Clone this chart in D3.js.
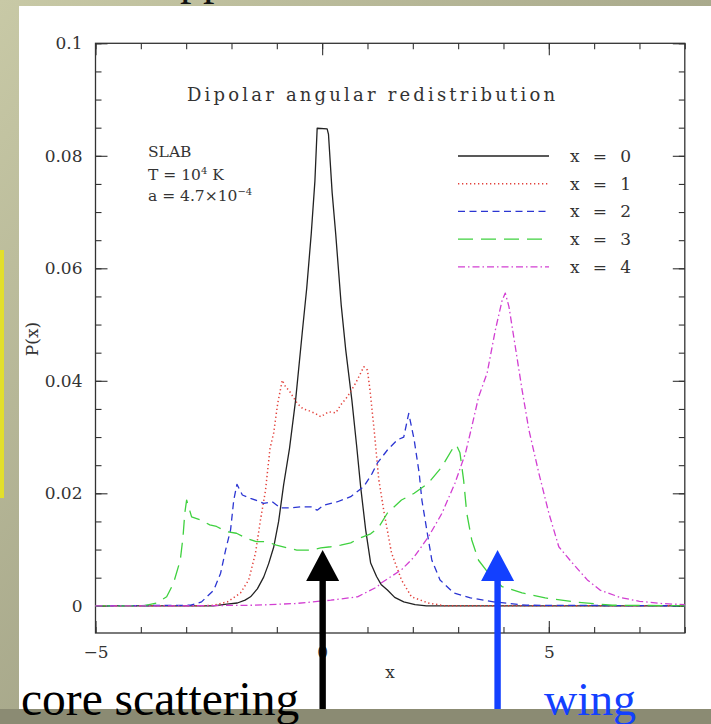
<!DOCTYPE html>
<html>
<head>
<meta charset="utf-8">
<script src="https://cdn.jsdelivr.net/npm/d3@7"></script>
<style>
  html, body { margin: 0; padding: 0; background: #a9aa8c; }
  svg { display: block; }
</style>
</head>
<body>
<svg id="chart" width="711" height="724"></svg>
<script>
// --- data: [x, P(x)] ---
const seriesNames = ['x = 0', 'x = 1', 'x = 2', 'x = 3', 'x = 4'];

const curveX0 = [[-5,0],[-2.4,0],[-2.1,0.0003],[-1.87,0.0005],[-1.7,0.001],[-1.58,0.0016],[-1.43,0.003],[-1.29,0.0051],
  [-1.18,0.0075],[-1.07,0.0104],[-0.96,0.015],[-0.85,0.0215],[-0.72,0.028],[-0.585,0.0366],[-0.44,0.0485],[-0.34,0.0565],
  [-0.24,0.0662],[-0.16,0.0755],[-0.11,0.0849],[0.11,0.0848],[0.14,0.0838],[0.22,0.0735],[0.3,0.066],[0.42,0.0535],
  [0.52,0.0455],[0.655,0.0366],[0.76,0.0285],[0.85,0.0211],[0.96,0.0135],[1.07,0.0076],[1.2,0.0052],[1.3,0.0038],
  [1.44,0.0028],[1.6,0.0015],[1.8,0.0007],[2.05,0.0002],[2.3,0],[8,0]];

const curveX1 = [[-5,0],[-2.6,0],[-2.39,0.0001],[-2.09,0.0007],[-1.8,0.0023],[-1.62,0.0046],[-1.47,0.0094],[-1.36,0.0153],
  [-1.25,0.0205],[-1.15,0.028],[-1.07,0.0307],[-0.98,0.036],[-0.88,0.0401],[-0.8,0.0388],[-0.74,0.0384],[-0.55,0.036],
  [-0.42,0.035],[-0.33,0.0348],[-0.15,0.0342],[-0.03,0.0336],[0.14,0.0345],[0.3,0.0343],[0.41,0.0357],[0.56,0.0372],
  [0.74,0.0396],[0.92,0.0425],[1.0,0.0419],[1.06,0.038],[1.14,0.0318],[1.25,0.0224],[1.37,0.0164],[1.53,0.0094],
  [1.75,0.0046],[1.97,0.0016],[2.34,0.0005],[2.7,0],[8,0]];

const curveX2 = [[-5,0],[-2.9,0.0001],[-2.66,0.0007],[-2.39,0.0028],[-2.24,0.0058],[-2.13,0.0099],[-2.02,0.0135],
  [-1.95,0.0188],[-1.88,0.0216],[-1.76,0.0197],[-1.58,0.0191],[-1.4,0.0186],[-1.29,0.0182],[-1.1,0.0185],[-0.92,0.0174],
  [-0.7,0.0174],[-0.48,0.0176],[-0.25,0.0176],[-0.11,0.017],[0.04,0.0179],[0.34,0.0185],[0.63,0.0194],[0.92,0.0212],
  [1.1,0.0235],[1.22,0.0254],[1.44,0.0277],[1.66,0.0295],[1.8,0.03],[1.91,0.0342],[2.03,0.0295],[2.14,0.0236],
  [2.2,0.0188],[2.32,0.0129],[2.42,0.0081],[2.6,0.0046],[2.9,0.0023],[3.27,0.0014],[3.78,0.0007],[4.5,0.0001],[8,0]];

const curveX3 = [[-5,0],[-3.95,0],[-3.65,0.0005],[-3.43,0.0016],[-3.28,0.004],[-3.13,0.0081],[-3.07,0.0122],
  [-3.03,0.0165],[-2.99,0.0188],[-2.88,0.0158],[-2.7,0.0153],[-2.48,0.0144],[-2.33,0.0141],[-2.11,0.0132],
  [-1.89,0.0129],[-1.67,0.012],[-1.45,0.0114],[-1.23,0.0114],[-1.01,0.0108],[-0.78,0.0103],[-0.56,0.0099],
  [-0.25,0.0099],[-0.03,0.0103],[0.19,0.0105],[0.41,0.0108],[0.63,0.0112],[0.85,0.0121],[1.07,0.0128],[1.25,0.014],
  [1.44,0.0165],[1.75,0.0188],[2.03,0.02],[2.34,0.0218],[2.64,0.0247],[2.86,0.0277],[2.96,0.0286],[3.04,0.0272],
  [3.12,0.0224],[3.19,0.0165],[3.3,0.0117],[3.45,0.0081],[3.67,0.0058],[3.97,0.0034],[4.41,0.0023],[4.92,0.0014],
  [5.65,0.0006],[6.4,0.0001],[8,0]];

const curveX4 = [[-5,0],[-3,0],[-1.5,0.0001],[-0.6,0.0004],[-0.33,0.0006],[0.19,0.001],[0.78,0.0016],[1.22,0.0034],
  [1.29,0.004],[1.75,0.0064],[2.03,0.0087],[2.34,0.0122],[2.64,0.0164],[2.93,0.0218],[3.16,0.0271],[3.3,0.0318],
  [3.45,0.0371],[3.64,0.0414],[3.82,0.049],[3.97,0.0543],[4.04,0.0556],[4.12,0.0532],[4.26,0.0461],[4.41,0.0384],
  [4.56,0.0313],[4.78,0.0236],[5.0,0.0165],[5.22,0.0105],[5.52,0.0076],[5.85,0.0046],[6.13,0.0028],[6.57,0.0015],
  [7.0,0.0008],[7.5,0.0004],[8,0.0002]];

const xMajorTicks = [-5, 0, 5];
const yMajorTicks = [0, 0.02, 0.04, 0.06, 0.08, 0.1];
const yTickLabels = ['0', '0.02', '0.04', '0.06', '0.08', '0.1'];

// line styles per series
const styles = [
  { color: '#222222', dash: null },
  { color: '#e2403a', dash: '1.3,2.7' },
  { color: '#2b35d2', dash: '7,4.5' },
  { color: '#3fd13f', dash: '15,8' },
  { color: '#d23fd2', dash: '7,3,1.5,3' }
];

const svg = d3.select('#chart');
const W = 711, H = 724;

// background: olive slide gradient
const defs = svg.append('defs');
const grad = defs.append('linearGradient').attr('id', 'bg')
  .attr('x1', 0).attr('y1', 0).attr('x2', 1).attr('y2', 1);
grad.append('stop').attr('offset', '0%').attr('stop-color', '#c8c9a6');
grad.append('stop').attr('offset', '100%').attr('stop-color', '#8a8a72');
svg.append('rect').attr('width', W).attr('height', H).attr('fill', 'url(#bg)');

// fragment of the slide heading above (cut off at the top, as in the slide)
svg.append('text').attr('x', 180).attr('y', -6)
  .attr('font-family', 'Liberation Serif').attr('font-size', 46).attr('fill', '#111')
  .text('pp');

// yellow box edge on the left
svg.append('rect').attr('x', 0).attr('y', 250).attr('width', 4).attr('height', 248).attr('fill', '#e2df2c');

// white panel
svg.append('rect').attr('x', 19).attr('y', 6).attr('width', W - 19).attr('height', 703).attr('fill', '#ffffff');

// scales
const x = d3.scaleLinear().domain([-5, 8]).range([95.5, 684.8]);
const y = d3.scaleLinear().domain([0, 0.1]).range([605.8, 43.3]);

const axisColor = '#333';
const tickFont = 'DejaVu Serif';

const xMinor = d3.range(-5, 8.01, 1);
const yMinor = d3.range(0, 0.1001, 0.005);

function styleAxis(g) {
  g.select('.domain').remove();
  g.selectAll('line').attr('stroke', axisColor).attr('stroke-width', 1.1);
  g.selectAll('text').attr('font-family', tickFont).attr('font-size', 17).attr('fill', '#333');
}

// bottom
svg.append('g').attr('transform', 'translate(0,633)')
  .call(d3.axisBottom(x).tickValues(xMinor).tickSize(-6).tickFormat('')).call(styleAxis);
svg.append('g').attr('transform', 'translate(0,633)')
  .call(d3.axisBottom(x).tickValues(xMajorTicks).tickSize(-12).tickPadding(13)
    .tickFormat(d => d < 0 ? '\u2212' + Math.abs(d) : d)).call(styleAxis);
// top
svg.append('g').attr('transform', `translate(0,${y(0.1)})`)
  .call(d3.axisTop(x).tickValues(xMinor).tickSize(-6).tickFormat('')).call(styleAxis);
svg.append('g').attr('transform', `translate(0,${y(0.1)})`)
  .call(d3.axisTop(x).tickValues(xMajorTicks).tickSize(-12).tickFormat('')).call(styleAxis);
// left
svg.append('g').attr('transform', `translate(${x(-5)},0)`)
  .call(d3.axisLeft(y).tickValues(yMinor).tickSize(-6).tickFormat('')).call(styleAxis);
svg.append('g').attr('transform', `translate(${x(-5)},0)`)
  .call(d3.axisLeft(y).tickValues(yMajorTicks).tickSize(-12).tickPadding(13)
    .tickFormat((d, i) => yTickLabels[i])).call(styleAxis);
// right
svg.append('g').attr('transform', `translate(${x(8)},0)`)
  .call(d3.axisRight(y).tickValues(yMinor).tickSize(-6).tickFormat('')).call(styleAxis);
svg.append('g').attr('transform', `translate(${x(8)},0)`)
  .call(d3.axisRight(y).tickValues(yMajorTicks).tickSize(-12).tickFormat('')).call(styleAxis);

// frame
svg.append('rect')
  .attr('x', x(-5)).attr('y', y(0.1))
  .attr('width', x(8) - x(-5)).attr('height', 633 - y(0.1))
  .attr('fill', 'none').attr('stroke', axisColor).attr('stroke-width', 1.3);

// curves
const line = d3.line().x(d => x(d[0])).y(d => y(d[1]));
const curves = [curveX0, curveX1, curveX2, curveX3, curveX4];
svg.append('g').selectAll('path')
  .data(curves)
  .join('path')
  .attr('d', d => line(d))
  .attr('fill', 'none')
  .attr('stroke', (d, i) => styles[i].color)
  .attr('stroke-width', (d, i) => i === 1 ? 1.5 : 1.3)
  .attr('stroke-dasharray', (d, i) => styles[i].dash)
  .attr('stroke-linejoin', 'round');

// legend
const legend = svg.append('g');
seriesNames.forEach((name, i) => {
  const ly = 156 + i * 27.7;
  legend.append('line')
    .attr('x1', 458).attr('x2', 549).attr('y1', ly).attr('y2', ly)
    .attr('stroke', styles[i].color)
    .attr('stroke-width', i === 1 ? 1.5 : 1.3)
    .attr('stroke-dasharray', styles[i].dash);
  legend.append('text')
    .attr('x', 570).attr('y', ly).attr('dy', '0.35em')
    .attr('font-family', tickFont).attr('font-size', 17).attr('fill', '#333')
    .attr('textLength', 61).attr('lengthAdjust', 'spacing')
    .text(name);
});

// title inside plot
svg.append('text')
  .attr('x', 187).attr('y', 101)
  .attr('font-family', tickFont).attr('font-size', 18).attr('fill', '#333')
  .attr('textLength', 368).attr('lengthAdjust', 'spacing')
  .text('Dipolar angular redistribution');

// parameter notes
const notes = svg.append('g').attr('font-family', tickFont).attr('font-size', 15.5).attr('fill', '#333');
notes.append('text').attr('x', 148).attr('y', 157).text('SLAB');
const t2 = notes.append('text').attr('x', 148).attr('y', 180);
t2.append('tspan').text('T = 10');
t2.append('tspan').attr('dy', -6).attr('font-size', 10).text('4');
t2.append('tspan').attr('dy', 6).text(' K');
const t3 = notes.append('text').attr('x', 148).attr('y', 201);
t3.append('tspan').text('a = 4.7\u00d710');
t3.append('tspan').attr('dy', -6).attr('font-size', 10).text('\u22124');

// axis titles
svg.append('text')
  .attr('x', x(1.5)).attr('y', 678).attr('text-anchor', 'middle')
  .attr('font-family', tickFont).attr('font-size', 17).attr('fill', '#333')
  .text('x');
svg.append('text')
  .attr('transform', 'translate(38,339) rotate(-90)').attr('text-anchor', 'middle')
  .attr('font-family', tickFont).attr('font-size', 17).attr('fill', '#333')
  .text('P(x)');

// bottom strip of the slide
svg.append('rect').attr('x', 0).attr('y', 709).attr('width', W).attr('height', H - 709).attr('fill', '#8b8b73');

// annotation arrows
function arrow(cx, color) {
  const g = svg.append('g').attr('fill', color);
  g.append('rect').attr('x', cx - 3.2).attr('y', 578).attr('width', 6.4).attr('height', 131);
  g.append('path').attr('d', `M${cx},550 L${cx - 16.5},581 L${cx + 16.5},581 Z`);
}
arrow(x(0) + 0.5, '#000000');
arrow(x(3.87), '#1340ff');

svg.append('text').attr('x', 21).attr('y', 715)
  .attr('font-family', 'Liberation Serif').attr('font-size', 47.5).attr('fill', '#000')
  .text('core scattering');
svg.append('text').attr('x', 544).attr('y', 715)
  .attr('font-family', 'Liberation Serif').attr('font-size', 46).attr('fill', '#1340ff')
  .text('wing');
</script>
</body>
</html>
